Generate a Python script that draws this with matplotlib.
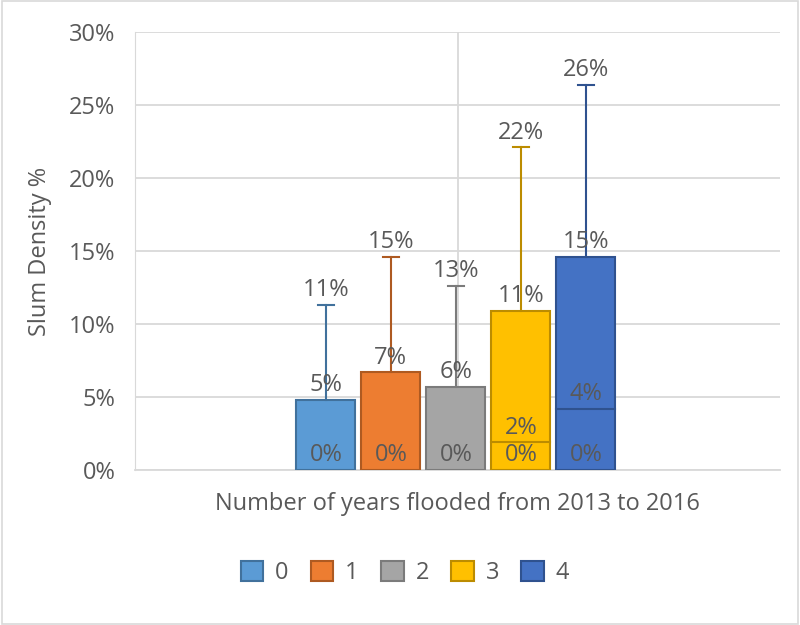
import matplotlib
matplotlib.use("Agg")
import matplotlib.pyplot as plt
from matplotlib.patches import Patch, Rectangle
from matplotlib.ticker import FuncFormatter

plt.rcParams['font.family'] = ['Open Sans', 'DejaVu Sans']

groups = ["0", "1", "2", "3", "4"]
q1 = [0.0, 0.0, 0.0, 0.0, 0.0]
median = [0.0, 0.0, 0.0, 1.9, 4.2]
q3 = [4.8, 6.7, 5.7, 10.9, 14.6]
maxv = [11.3, 14.6, 12.6, 22.1, 26.4]
q3_labels = ["5%", "7%", "6%", "11%", "15%"]
max_labels = ["11%", "15%", "13%", "22%", "26%"]
min_labels = ["0%", "0%", "0%", "0%", "0%"]
median_labels = [None, None, None, "2%", "4%"]
fills = ["#5B9BD5", "#ED7D31", "#A5A5A5", "#FFC000", "#4472C4"]
edges = ["#41719C", "#AE5A21", "#7B7B7B", "#BC8C00", "#2F528F"]
yticks = [0, 5, 10, 15, 20, 25, 30]

txt = "#595959"
fs = 17
fig = plt.figure(figsize=(8, 6.25), dpi=100)
ax = fig.add_axes([135/800, 1-470/625, 645/800, 438/625])
ax.set_xlim(0, 1)
ax.set_ylim(0, 30)

width = 0.0915
step = 0.1008
n = len(groups)
for i in range(n):
    xc = 0.4975 + (i - (n-1)/2) * step
    ax.bar(xc, q3[i]-q1[i], bottom=q1[i], width=width, color=fills[i],
           edgecolor=edges[i], linewidth=1.5, zorder=3)
    # whisker
    ax.plot([xc, xc], [q3[i], maxv[i]], color=edges[i], lw=1.5, zorder=3)
    ax.plot([xc-0.012, xc+0.012], [maxv[i], maxv[i]], color=edges[i], lw=1.5, zorder=3)
    if median[i] > 0:
        ax.plot([xc-width/2, xc+width/2], [median[i], median[i]], color=edges[i], lw=1.5, zorder=4)
    lab_kw = dict(textcoords="offset points", xytext=(0, 10.5), ha="center", va="center",
                  fontsize=fs, color=txt, zorder=5)
    ax.annotate(max_labels[i], (xc, maxv[i]), **lab_kw)
    ax.annotate(q3_labels[i], (xc, q3[i]), **lab_kw)
    ax.annotate(min_labels[i], (xc, q1[i]), **lab_kw)
    if median_labels[i]:
        ax.annotate(median_labels[i], (xc, median[i]), **lab_kw)

ax.set_yticks(yticks)
ax.yaxis.set_major_formatter(FuncFormatter(lambda v, p: f"{int(v)}%"))
ax.set_xticks([0.5])
ax.set_xticklabels([""])
ax.tick_params(axis='both', length=0, labelsize=fs, labelcolor=txt)
ax.tick_params(axis='y', pad=14)
ax.grid(True, color="#D9D9D9", lw=1.3, zorder=0)
for s in ["top", "right"]:
    ax.spines[s].set_visible(False)
ax.spines["left"].set_color("#D9D9D9")
ax.spines["bottom"].set_color("#D9D9D9")
ax.spines["bottom"].set_linewidth(1.3)
ax.set_ylabel("Slum Density %", fontsize=fs, color=txt, labelpad=12)
ax.set_xlabel("Number of years flooded from 2013 to 2016", fontsize=fs, color=txt, labelpad=12)

handles = [Patch(facecolor=fills[i], edgecolor=edges[i], linewidth=1.5, label=groups[i]) for i in range(n)]
fig.legend(handles=handles, loc="center", bbox_to_anchor=(405/800, 1-573/625), ncol=5,
           frameon=False, fontsize=fs, labelcolor=txt, handlelength=0.95, handleheight=0.95,
           columnspacing=0.95, handletextpad=0.5)

fig.patches.append(Rectangle((0.002, 0.002), 0.996, 0.996, transform=fig.transFigure,
                             fill=False, edgecolor="#D9D9D9", lw=1.2))
fig.savefig("out.png", dpi=100)
